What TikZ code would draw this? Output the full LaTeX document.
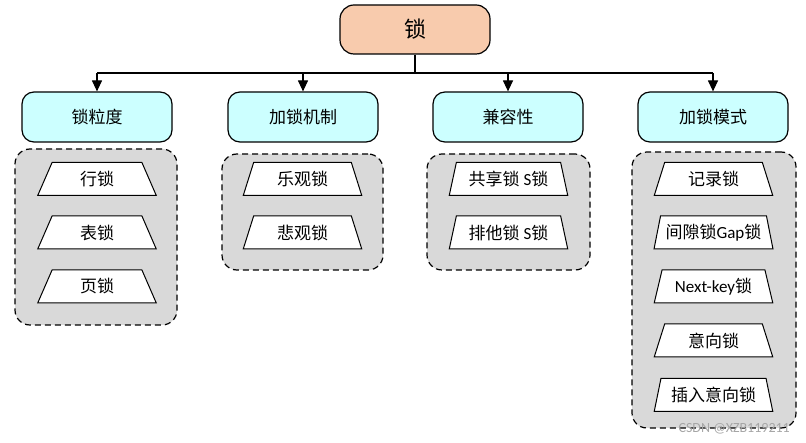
\documentclass[tikz,border=0pt]{standalone}
\usepackage{fontspec}
\setmainfont{Noto Sans CJK SC}
\newfontfamily\lat{Carlito}
\usetikzlibrary{shapes.geometric,arrows.meta}
\definecolor{rootc}{HTML}{F8CBAD}
\definecolor{catc}{HTML}{CCFFFF}
\definecolor{grpc}{HTML}{D9D9D9}
\begin{document}
\begin{tikzpicture}[x=1pt,y=-1pt,
  rootbox/.style={draw, line width=1.2pt, rounded corners=14pt, fill=rootc, minimum width=150pt, minimum height=49pt, font=\fontsize{22}{25}\selectfont},
  catbox/.style={draw, line width=1.2pt, rounded corners=12pt, fill=catc, minimum width=150pt, minimum height=50pt, font=\fontsize{17}{20}\selectfont},
  grp/.style={draw, dash pattern=on 6pt off 4pt, line width=1.2pt, rounded corners=15pt, fill=grpc, inner sep=0pt},
  item/.style={draw, line width=1pt, fill=white, trapezium, trapezium stretches=true, trapezium angle=71, minimum width=119pt, minimum height=33pt, inner sep=0pt, font=\fontsize{17}{20}\selectfont},
  arr/.style={line width=1.2pt, -{Triangle[length=11pt,width=10pt]}},
]
\useasboundingbox (0,0) rectangle (806,443);
\node[rootbox] (root) at (415,29.5) {锁};
\node[catbox] (c1) at (97,117) {锁粒度};
\node[catbox] (c2) at (303,117) {加锁机制};
\node[catbox] (c3) at (508,117) {兼容性};
\node[catbox] (c4) at (713,117) {加锁模式};
\coordinate (bus) at (415,73);
\draw[line width=1.6pt] (root.south) -- (bus);
\draw[line width=1.2pt] (c1.north |- bus) -- (c4.north |- bus);
\foreach \c in {c1,c2,c3,c4} \draw[arr] (\c.north |- bus) -- (\c.north);

\node[grp, minimum width=162pt, minimum height=176pt] (g1) at (96,237) {};
\node[grp, minimum width=161pt, minimum height=116pt] (g2) at (302.5,212) {};
\node[grp, minimum width=163pt, minimum height=116pt] (g3) at (508.5,212) {};
\node[grp, minimum width=164pt, minimum height=276pt] (g4) at (714,290) {};

\node[item] (i11) at (97,179) {行锁};
\node[item] (i12) at (97,232.5) {表锁};
\node[item] (i13) at (97,286.5) {页锁};
\node[item] (i21) at (302.5,179) {乐观锁};
\node[item] (i22) at (302.5,232.5) {悲观锁};
\node[item] (i31) at (508.5,179) {共享锁{\lat\ S}锁};
\node[item] (i32) at (508.5,232.5) {排他锁{\lat\ S}锁};
\node[item] (i41) at (713.5,179) {记录锁};
\node[item] (i42) at (713.5,232.5) {间隙锁{\lat Gap}锁};
\node[item] (i43) at (713.5,286.5) {{\lat Next-key}锁};
\node[item] (i44) at (713.5,340.5) {意向锁};
\node[item] (i45) at (713.5,395) {插入意向锁};

\node[text=gray!70, font=\lat\fontsize{14}{16}\selectfont, anchor=east, inner sep=0pt] (wm) at (790,429) {CSDN @XZB119211};
\end{tikzpicture}
\end{document}
